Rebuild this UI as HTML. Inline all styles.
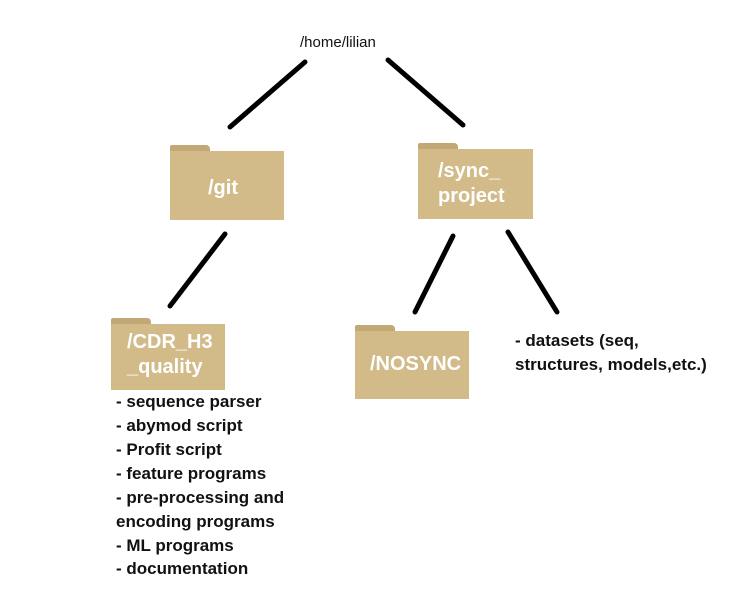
<!DOCTYPE html>
<html><head><style>
body{margin:0;width:738px;height:613px;background:#fff;position:relative;overflow:hidden;font-family:"Liberation Sans",sans-serif}
.f{position:absolute}
.f .tab{position:absolute;left:0;top:0;width:40px;height:8px;background:#c2a874;border-radius:2px 4px 0 0}
.f .bd{position:absolute;left:0;top:6px;right:0;bottom:0;background:#d2bb88;color:#fff;font-weight:bold;font-size:20px;line-height:25px}
.t{position:absolute;font-weight:bold;font-size:17px;color:#111;line-height:24px}
</style></head><body>
<svg width="738" height="613" style="position:absolute;left:0;top:0">
<g stroke="#000" stroke-width="5" stroke-linecap="round">
<line x1="305" y1="62" x2="230" y2="127"/>
<line x1="388" y1="60" x2="463" y2="125"/>
<line x1="225" y1="234" x2="170" y2="306"/>
<line x1="453" y1="236" x2="415" y2="312"/>
<line x1="508" y1="232" x2="557" y2="312"/>
</g></svg>
<div style="position:absolute;left:300px;top:34px;font-size:15px;color:#111">/home/lilian</div>
<div class="f" style="left:170px;top:145px;width:114px;height:75px"><div class="tab"></div><div class="bd"><div style="padding:25px 0 0 38px">/git</div></div></div>
<div class="f" style="left:418px;top:143px;width:115px;height:76px"><div class="tab"></div><div class="bd"><div style="padding:10px 0 0 20px">/sync_<br>project</div></div></div>
<div class="f" style="left:111px;top:318px;width:114px;height:72px"><div class="tab"></div><div class="bd"><div style="padding:6px 0 0 16px">/CDR_H3<br>_quality</div></div></div>
<div class="f" style="left:355px;top:325px;width:114px;height:74px"><div class="tab"></div><div class="bd"><div style="padding:21px 0 0 15px">/NOSYNC</div></div></div>
<div class="t" style="left:515px;top:329px">- datasets (seq,<br>structures, models,etc.)</div>
<div class="t" style="left:116px;top:390px">- sequence parser<br>- abymod script<br>- Profit script<br>- feature programs<br>- pre-processing and<br>encoding programs<br>- ML programs</div>
<div class="t" style="left:116px;top:557px">- documentation</div>
</body></html>
